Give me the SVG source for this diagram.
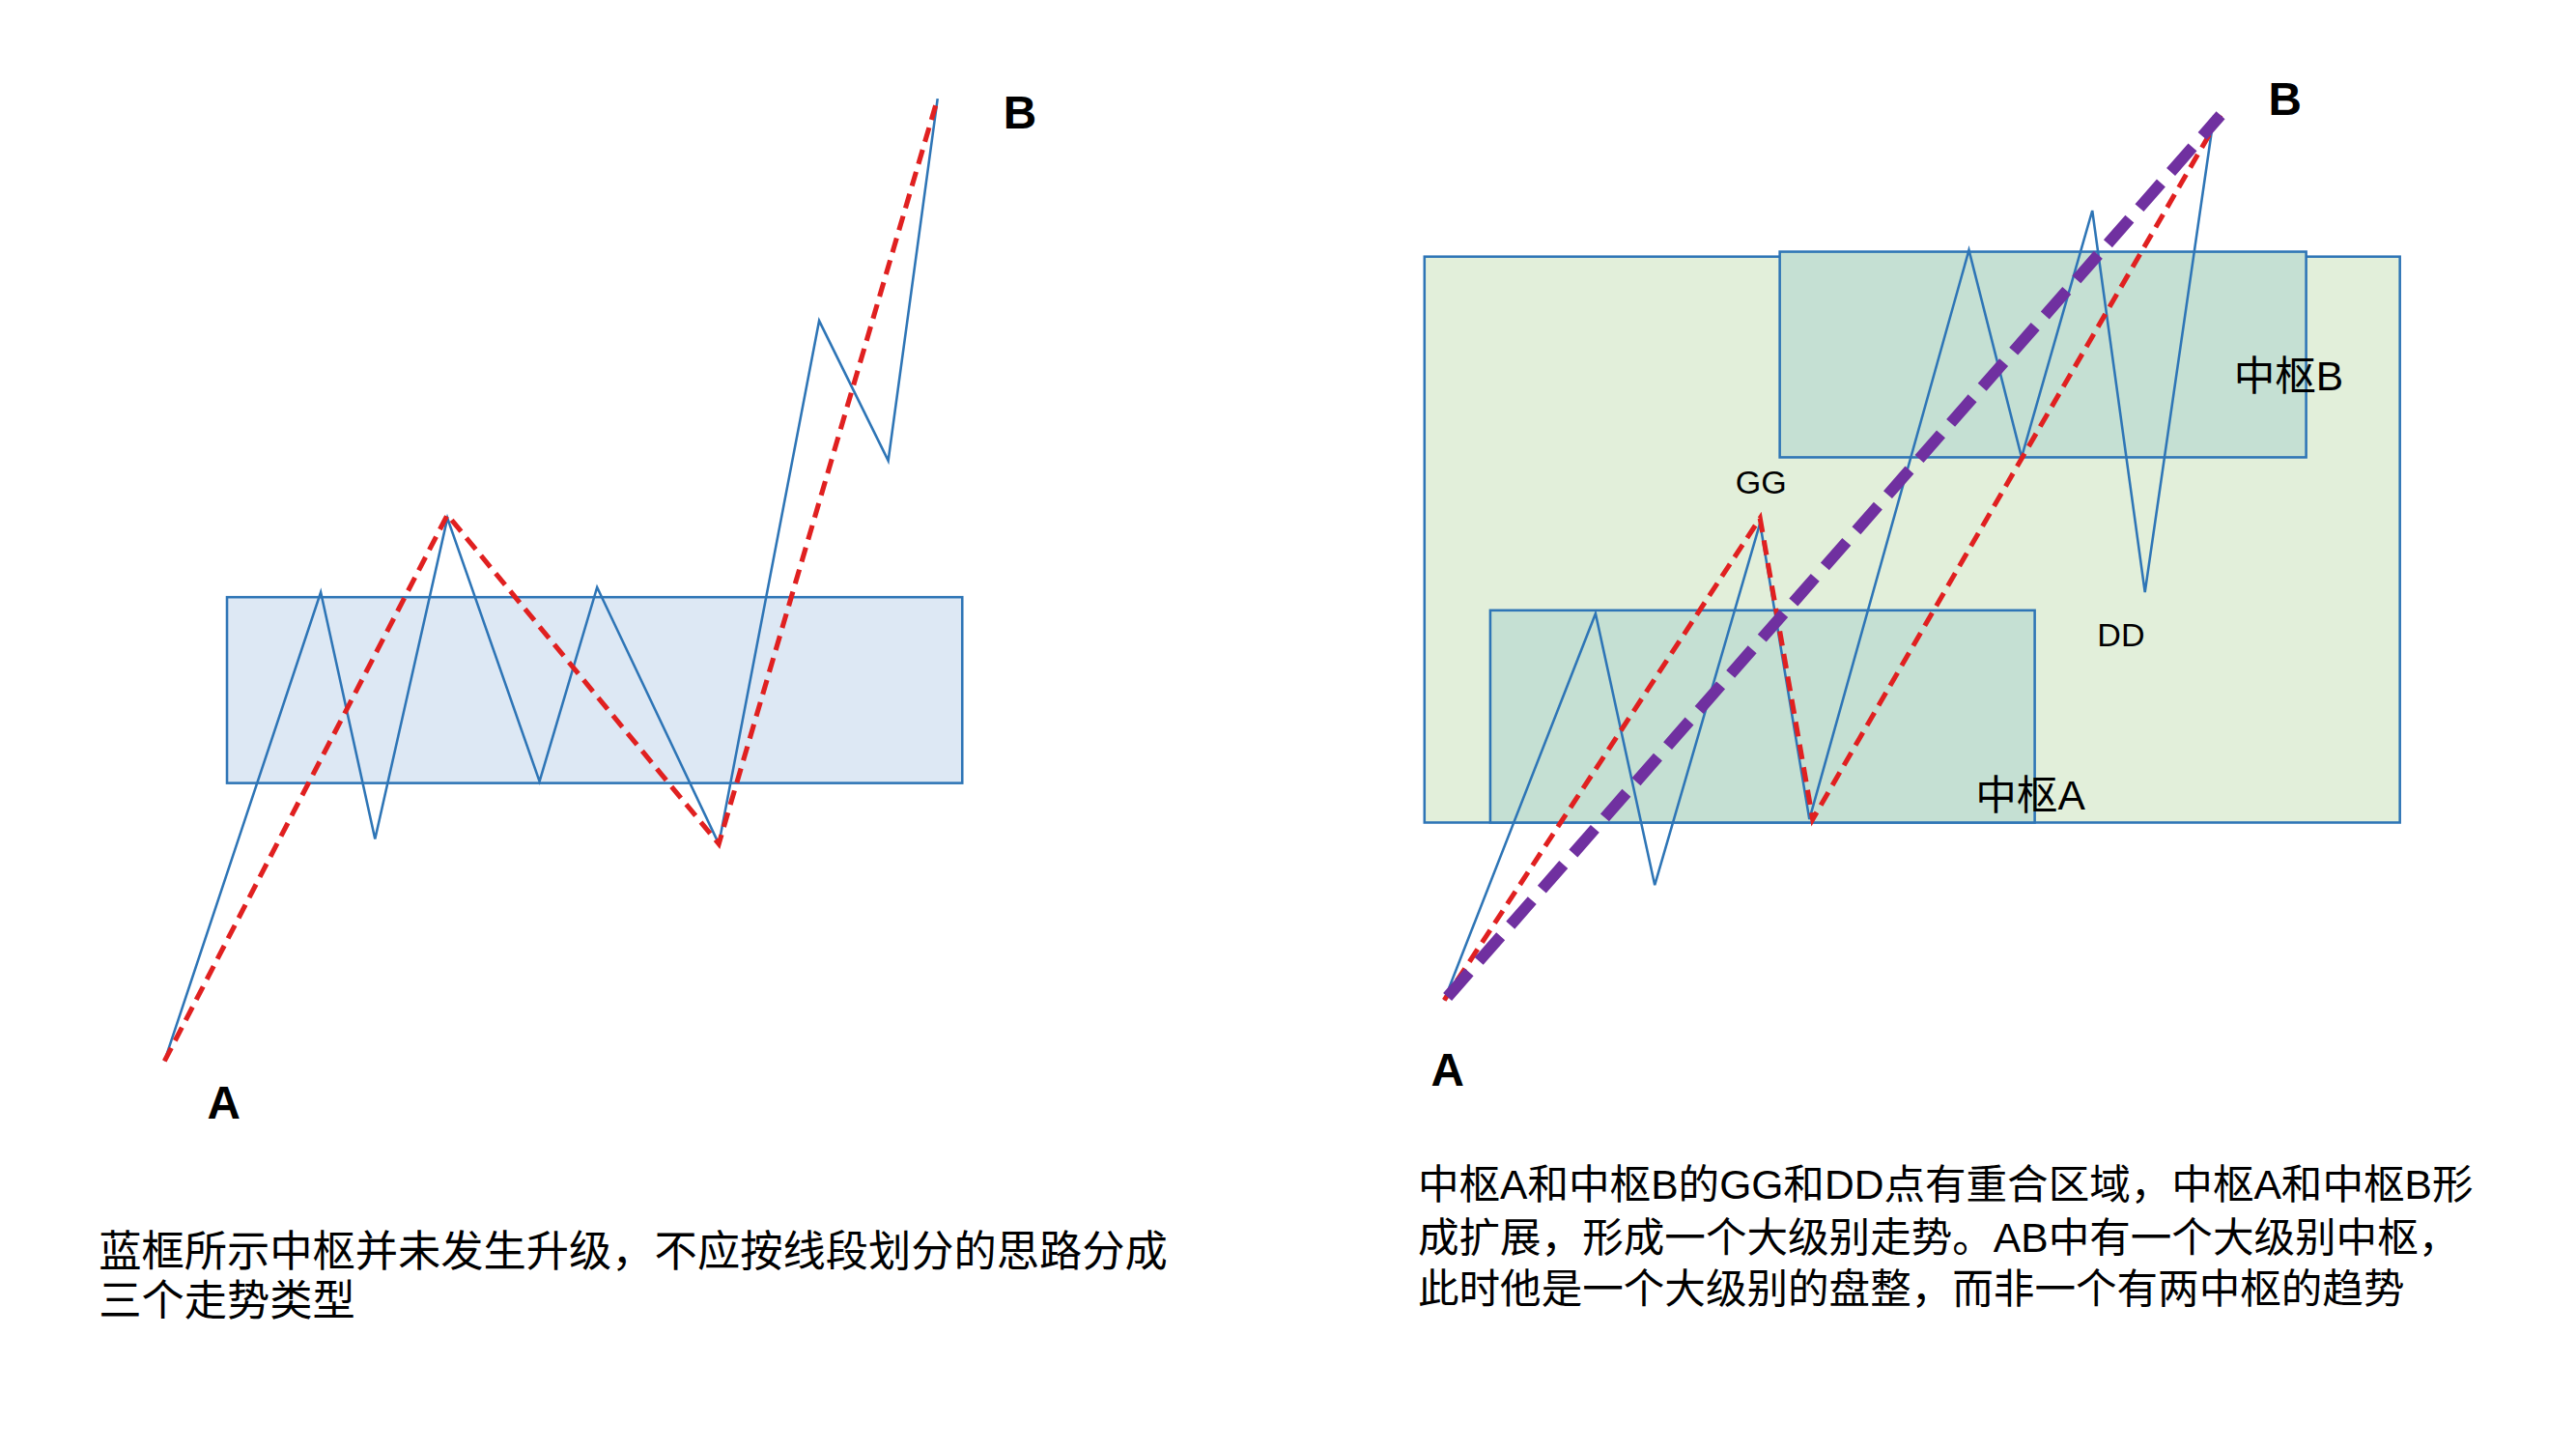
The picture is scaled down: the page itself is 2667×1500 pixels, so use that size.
<svg xmlns="http://www.w3.org/2000/svg" width="2667" height="1500" viewBox="0 0 2667 1500">
<style>
.wave{fill:none;stroke:#2e75b6;stroke-width:1.5}
.red{fill:none;stroke:#e02020;stroke-width:3;stroke-dasharray:9,5}
.pur{fill:none;stroke:#7030a0;stroke-width:7;stroke-dasharray:20,9}
.box{stroke:#2e75b6;stroke-width:1.5}
.big{font-family:"Liberation Sans","Noto Sans CJK SC",sans-serif;font-weight:bold;font-size:28px;fill:#000}
.lbl{font-family:"Liberation Sans","Noto Sans CJK SC",sans-serif;font-size:20px;fill:#000}
.zh{font-family:"Liberation Sans","Noto Sans CJK SC",sans-serif;font-size:25px;fill:#000}
</style>
<rect width="2667" height="1500" fill="#fff"/>
<g transform="scale(1.703)">
<g id="boxL"><rect class="box" x="138" y="363" width="447" height="113" fill="#dde8f4"/></g>
<g id="boxBig"><rect class="box" x="866" y="156" width="593" height="344" fill="#e2efda"/></g>
<g id="boxB"><rect class="box" x="1082" y="153" width="320" height="125" fill="#c5e0d3"/></g>
<g id="boxA"><rect class="box" x="906" y="371" width="331" height="129" fill="#c5e0d3"/></g>
<g id="connectors">
<polyline class="wave" points="100,645 195,360 228,510 272,315 328,475 363,357 437,513 498,195 540,280 570,60"/>
<polyline class="red" points="100,645 272,313 437,513 570,60"/>
<polyline class="wave" points="878,608 970,373 1006,538 1070,318 1100,498 1197,152 1229,278 1272,128 1304,360 1346,70"/>
<polyline class="red" points="878,608 1070,315 1102,498 1350,70"/>
<line class="pur" x1="880" y1="606" x2="1350" y2="70"/>
</g>
<g id="labels">
<text class="big" x="126" y="680">A</text>
<text class="big" x="610" y="78">B</text>
<text class="big" x="870" y="660">A</text>
<text class="big" x="1379" y="70">B</text>
<text class="lbl" x="1055" y="300">GG</text>
<text class="lbl" x="1275" y="393">DD</text>
<text class="zh" x="1358" y="237">中枢B</text>
<text class="zh" x="1201" y="492">中枢A</text>
<text class="zh" x="60" y="770" style="font-size:26px">蓝框所示中枢并未发生升级，不应按线段划分的思路分成</text>
<text class="zh" x="60" y="800" style="font-size:26px">三个走势类型</text>
<text class="zh" x="862" y="729">中枢A和中枢B的GG和DD点有重合区域，中枢A和中枢B形</text>
<text class="zh" x="862" y="761">成扩展，形成一个大级别走势。AB中有一个大级别中枢，</text>
<text class="zh" x="862" y="792">此时他是一个大级别的盘整，而非一个有两中枢的趋势</text>
</g>
</g>
</svg>
